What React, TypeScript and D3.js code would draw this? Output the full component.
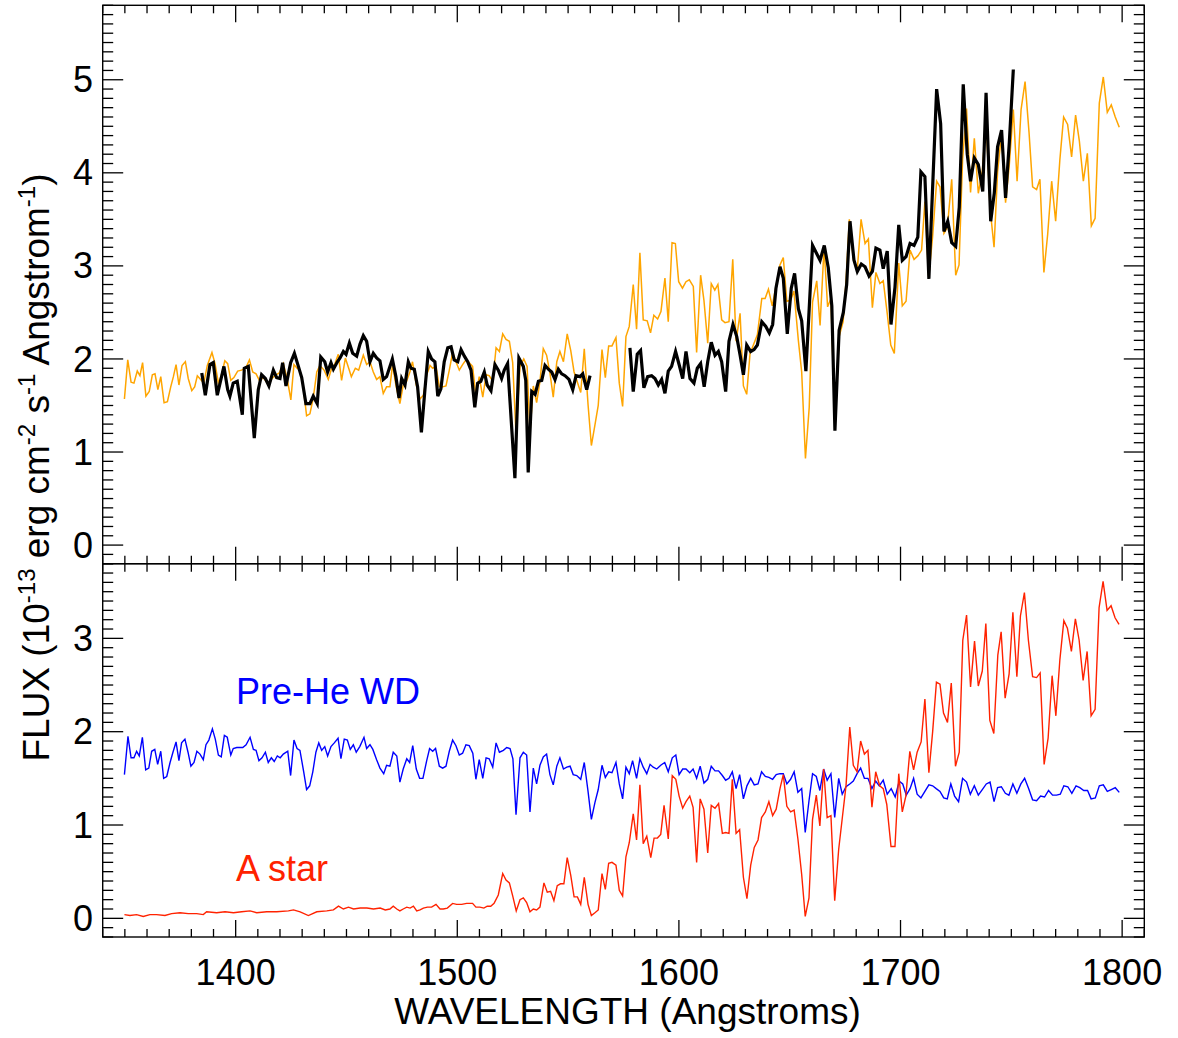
import React from 'react';
import * as d3 from 'd3';

// ---------- DATA ----------
const xTickLabels = [1400, 1500, 1600, 1700, 1800];
const topYTicks = [0, 1, 2, 3, 4, 5];
const botYTicks = [0, 1, 2, 3];

// Observed spectrum (black), two segments
const blackWaveA = [1384.7,1386.3,1388.4,1389.9,1391.7,1394.7,1396.4,1397.4,1398.9,1400.7,1403.0,1403.9,1405.7,1408.4,1410.2,1411.7,1413.4,1415.0,1417.0,1418.5,1420.0,1421.2,1422.7,1424.8,1426.5,1428.3,1429.8,1431.7,1433.5,1435.0,1436.8,1438.4,1440.2,1441.5,1443.0,1444.1,1445.9,1447.1,1448.6,1449.8,1451.3,1452.8,1454.6,1456.1,1457.6,1459.1,1460.6,1462.1,1463.6,1465.1,1466.6,1468.1,1470.7,1472.3,1473.7,1474.9,1476.4,1477.9,1479.1,1480.6,1482.1,1483.8,1485.4,1486.9,1488.4,1489.9,1491.2,1492.6,1494.1,1495.7,1497.2,1498.6,1500.2,1501.7,1503.2,1504.7,1506.2,1507.9,1509.2,1510.6,1512.2,1513.5,1515.2,1517.0,1518.5,1520.0,1521.2,1522.7,1526.0,1527.8,1529.8,1530.9,1532.0,1533.6,1535.1,1536.6,1538.1,1539.6,1541.1,1542.6,1544.1,1545.6,1547.1,1548.6,1550.4,1552.1,1553.6,1555.4,1556.6,1558.4,1559.9];
const blackFluxA = [1.85,1.61,1.94,1.96,1.61,1.92,1.67,1.60,1.74,1.76,1.40,1.90,1.92,1.15,1.67,1.83,1.79,1.71,1.88,1.80,1.79,1.96,1.71,1.96,2.06,1.92,1.80,1.52,1.52,1.60,1.52,2.02,1.97,1.86,1.96,1.89,1.97,2.01,2.08,2.05,2.17,2.06,2.03,2.16,2.25,2.19,1.97,2.06,2.01,1.98,1.78,1.81,2.00,1.81,1.58,1.79,1.72,1.97,1.90,1.89,1.70,1.21,1.67,2.08,2.00,1.97,1.60,1.68,1.97,2.12,2.13,1.99,1.97,2.10,2.03,1.97,1.88,1.48,1.74,1.76,1.86,1.72,1.66,1.94,1.88,1.79,1.88,1.95,0.72,2.01,1.92,1.77,0.78,1.65,1.62,1.76,1.77,1.93,1.89,1.86,1.78,1.89,1.84,1.82,1.78,1.67,1.82,1.81,1.84,1.67,1.82];
const blackWaveB = [1577.9,1579.4,1581.2,1582.7,1584.2,1585.9,1587.7,1589.2,1590.7,1592.2,1593.7,1595.2,1596.7,1598.5,1600.2,1601.7,1603.2,1605.0,1606.8,1608.3,1609.8,1611.4,1613.0,1614.6,1616.3,1617.8,1619.3,1621.1,1622.6,1624.4,1626.1,1627.7,1629.1,1630.6,1632.4,1633.9,1635.4,1637.4,1639.2,1640.8,1642.3,1643.8,1645.6,1647.1,1648.9,1650.7,1652.2,1653.9,1655.4,1657.3,1660.3,1662.2,1663.7,1665.6,1667.4,1669.0,1670.4,1672.3,1674.2,1675.7,1677.2,1679.0,1680.5,1682.3,1684.0,1685.8,1687.3,1688.9,1690.7,1692.2,1694.0,1695.7,1697.5,1699.2,1700.8,1702.5,1704.3,1706.1,1707.8,1709.2,1711.0,1712.8,1716.3,1718.1,1719.6,1721.3,1723.1,1724.9,1726.5,1728.3,1730.1,1731.6,1733.3,1735.1,1737.1,1738.6,1740.7,1742.3,1743.8,1745.6,1747.4,1749.1,1750.9];
const blackFluxB = [2.12,1.65,2.05,2.09,1.69,1.81,1.82,1.79,1.72,1.78,1.63,1.87,1.92,2.08,1.93,1.79,2.08,1.79,1.74,1.90,1.95,1.70,1.97,2.18,2.04,2.08,1.97,1.65,2.19,2.37,2.24,2.03,1.83,2.15,2.08,2.10,2.15,2.40,2.35,2.28,2.37,2.76,2.99,2.87,2.27,2.76,2.92,2.54,2.41,1.87,3.22,3.13,3.06,3.22,2.98,2.57,1.23,2.31,2.50,2.80,3.48,3.06,2.94,3.02,2.99,2.89,2.94,3.19,3.17,2.97,3.16,2.37,2.77,3.44,3.06,3.10,3.24,3.22,3.31,4.01,3.96,2.86,4.90,4.53,3.37,3.48,3.25,3.21,3.63,4.95,4.20,3.91,4.16,4.09,3.80,4.86,3.48,3.78,4.28,4.46,3.73,4.33,5.11];

// Composite model (orange)
const orangeWave = [1349.8,1351.3,1352.8,1354.1,1355.6,1356.8,1358.0,1359.5,1361.0,1362.4,1363.6,1364.9,1366.2,1367.7,1369.2,1370.7,1371.9,1373.1,1374.4,1375.8,1377.3,1378.6,1380.2,1381.5,1382.7,1384.2,1385.6,1387.2,1389.3,1390.7,1392.2,1393.5,1395.1,1396.4,1397.8,1399.2,1400.9,1402.7,1404.7,1406.2,1407.7,1409.2,1410.7,1412.5,1414.9,1416.4,1418.2,1419.7,1421.5,1423.3,1424.9,1426.3,1427.7,1429.0,1430.5,1432.0,1433.5,1435.0,1436.6,1438.0,1439.9,1441.8,1443.3,1444.8,1446.3,1447.8,1449.5,1451.0,1452.2,1454.0,1455.5,1457.6,1459.1,1460.6,1462.1,1463.6,1465.1,1466.6,1468.1,1469.6,1470.8,1472.3,1474.1,1475.6,1477.1,1478.6,1479.8,1481.5,1483.2,1484.7,1486.2,1487.7,1488.9,1490.4,1491.9,1493.4,1494.9,1496.4,1497.9,1499.4,1500.9,1502.4,1503.9,1505.4,1506.9,1508.4,1509.9,1511.5,1513.0,1514.4,1516.0,1517.5,1519.0,1520.5,1522.0,1523.5,1525.0,1526.5,1528.3,1530.0,1531.5,1532.8,1534.3,1535.8,1537.3,1538.8,1540.3,1541.8,1543.3,1544.9,1546.3,1547.9,1549.6,1551.2,1552.7,1554.2,1555.7,1557.3,1559.0,1560.5,1562.1,1563.6,1565.3,1566.8,1568.3,1569.8,1571.6,1573.1,1574.6,1576.1,1577.6,1579.4,1580.9,1582.4,1583.9,1585.7,1587.2,1588.7,1590.4,1591.9,1593.7,1595.2,1596.9,1598.4,1599.9,1601.6,1603.2,1604.7,1606.5,1608.0,1609.8,1611.3,1613.0,1614.6,1616.2,1617.6,1619.3,1620.8,1622.6,1624.3,1625.8,1627.6,1629.1,1630.6,1632.1,1633.6,1635.4,1637.4,1638.9,1640.4,1642.1,1643.9,1645.6,1647.1,1648.7,1650.4,1651.9,1653.9,1655.4,1657.1,1658.8,1660.3,1662.2,1663.7,1665.5,1667.1,1668.6,1670.4,1672.3,1674.1,1675.4,1676.9,1678.7,1680.5,1682.2,1684.0,1685.5,1687.3,1688.9,1690.7,1692.2,1694.0,1695.6,1697.2,1699.2,1700.8,1702.5,1704.3,1706.1,1707.9,1709.5,1711.0,1712.7,1714.5,1716.3,1717.8,1719.6,1721.1,1723.1,1724.9,1726.4,1728.0,1729.8,1731.6,1733.3,1735.1,1736.9,1738.6,1740.4,1742.2,1743.8,1745.6,1747.4,1749.1,1750.9,1752.6,1754.4,1756.2,1758.0,1759.6,1761.4,1762.9,1764.7,1766.4,1768.2,1770.0,1771.9,1773.6,1775.4,1777.2,1779.0,1780.7,1782.5,1784.3,1786.1,1787.8,1789.7,1791.5,1793.3,1795.1,1796.9,1798.7];
const orangeFlux = [1.57,1.99,1.75,1.74,1.87,1.82,1.96,1.60,1.65,1.83,1.84,1.67,1.81,1.53,1.54,1.70,1.81,1.94,1.72,1.93,1.97,1.79,1.66,1.70,1.82,1.78,1.74,1.93,2.07,1.95,1.74,1.82,1.98,1.95,1.77,1.80,1.87,1.88,1.91,1.99,1.86,1.84,1.77,1.80,1.72,1.79,1.83,1.85,1.95,1.78,1.56,1.94,1.90,1.88,1.70,1.39,1.41,1.58,1.86,1.93,1.88,1.78,1.90,1.95,2.05,1.77,2.01,1.90,1.81,1.90,1.88,2.04,1.94,1.97,1.86,1.78,1.81,1.63,1.70,1.70,1.94,1.72,1.52,1.72,1.76,1.86,1.97,1.72,1.57,1.61,1.83,1.93,1.90,1.92,1.70,1.70,1.71,1.88,2.07,1.97,1.88,1.94,1.99,1.96,1.92,1.60,1.81,1.59,1.83,1.82,1.76,2.12,2.08,2.27,2.21,2.19,1.96,1.19,1.92,2.00,1.92,1.21,1.71,1.53,1.76,2.11,2.04,1.85,1.59,1.97,2.08,1.97,2.27,2.09,1.86,1.75,1.64,2.11,1.51,1.07,1.29,1.50,2.10,1.80,2.14,2.14,2.23,1.74,1.49,2.24,2.35,2.80,2.32,3.14,2.42,2.41,2.28,2.47,2.43,2.51,2.87,2.40,3.25,3.24,2.83,2.76,2.83,2.85,2.78,2.07,2.90,2.63,2.17,2.81,2.74,2.80,2.42,2.39,2.40,3.07,2.19,2.49,1.71,1.62,2.06,2.15,2.26,2.65,2.65,2.75,2.57,2.79,3.01,3.09,2.62,2.63,2.73,2.20,1.86,0.93,1.48,2.61,2.84,2.36,3.20,2.56,2.65,1.27,2.24,2.40,2.83,3.50,3.07,2.96,3.50,3.24,3.29,2.55,2.93,2.81,2.84,2.49,2.15,2.06,3.03,2.57,2.62,3.17,3.07,3.11,3.17,3.69,2.87,3.32,3.91,3.85,3.35,3.41,3.93,2.90,3.01,4.14,4.69,3.79,4.37,3.78,4.02,4.57,3.62,3.20,4.01,4.43,3.68,4.09,4.68,3.91,4.68,4.98,4.43,3.85,3.82,3.93,2.93,3.34,3.91,3.48,4.14,4.60,4.52,4.17,4.62,4.34,3.91,4.21,3.43,3.51,4.75,5.03,4.65,4.73,4.60,4.49];

// Pre-He WD model (blue)
const blueWave = [1349.8,1351.4,1352.8,1354.1,1355.3,1356.5,1357.9,1359.4,1360.8,1362.1,1363.5,1364.8,1366.2,1367.5,1368.9,1370.4,1371.7,1373.1,1374.4,1375.6,1377.1,1378.5,1379.8,1381.2,1382.5,1383.9,1385.4,1386.6,1387.9,1389.5,1390.8,1392.2,1393.5,1394.9,1396.2,1397.8,1398.9,1400.5,1401.8,1403.2,1404.7,1406.5,1408.0,1409.2,1410.5,1411.9,1413.4,1414.7,1416.1,1417.4,1418.8,1420.1,1421.5,1423.5,1424.8,1426.3,1427.7,1429.0,1430.7,1432.0,1433.4,1434.8,1436.2,1437.5,1438.8,1440.2,1441.5,1443.0,1444.5,1446.2,1447.5,1449.0,1450.4,1451.7,1453.1,1454.4,1456.0,1457.9,1459.1,1460.6,1461.9,1463.6,1465.1,1466.8,1468.1,1469.6,1471.1,1472.7,1474.1,1475.6,1477.2,1478.5,1479.9,1481.5,1483.0,1484.5,1486.2,1487.5,1488.9,1490.2,1491.9,1493.4,1494.9,1496.4,1497.9,1499.4,1500.9,1502.4,1503.9,1505.4,1507.0,1508.4,1509.9,1511.5,1513.0,1514.4,1516.0,1517.5,1519.0,1520.8,1522.3,1523.8,1525.1,1526.5,1528.3,1529.8,1531.3,1532.8,1534.3,1535.8,1537.3,1538.8,1540.3,1541.8,1543.3,1544.9,1546.3,1547.9,1549.4,1550.9,1552.3,1553.9,1555.7,1557.3,1559.0,1560.5,1562.1,1563.6,1565.3,1566.8,1568.3,1569.8,1571.6,1573.1,1574.6,1576.1,1577.6,1579.1,1580.9,1582.4,1583.9,1585.5,1587.0,1588.4,1590.0,1591.8,1593.6,1595.2,1597.0,1598.6,1600.1,1601.7,1603.2,1604.9,1606.4,1608.0,1609.6,1611.3,1613.0,1614.6,1616.3,1617.9,1619.6,1621.1,1622.6,1624.1,1625.8,1627.4,1629.1,1630.7,1632.4,1634.0,1635.7,1637.3,1639.0,1640.6,1642.3,1643.9,1645.6,1647.1,1648.7,1650.4,1652.0,1653.7,1655.4,1657.0,1658.7,1660.3,1662.0,1663.6,1665.3,1666.9,1668.6,1670.3,1672.1,1673.7,1675.4,1677.1,1678.7,1680.4,1682.0,1683.7,1685.3,1687.1,1688.8,1690.4,1692.2,1694.0,1695.8,1697.6,1699.4,1701.0,1702.6,1704.3,1705.9,1707.5,1709.2,1711.0,1712.8,1714.5,1716.1,1717.8,1719.5,1721.1,1722.7,1724.4,1726.2,1728.0,1729.8,1731.5,1733.3,1735.1,1736.9,1738.7,1740.4,1742.2,1743.8,1745.5,1747.3,1748.9,1750.7,1752.5,1754.3,1756.0,1757.8,1759.6,1761.4,1763.2,1765.0,1766.8,1768.6,1770.4,1772.1,1773.7,1775.5,1777.3,1779.2,1780.9,1782.7,1784.4,1786.0,1787.9,1789.7,1791.5,1793.3,1795.1,1796.9,1798.7];
const blueFlux = [1.54,1.95,1.72,1.72,1.79,1.74,1.94,1.59,1.61,1.79,1.81,1.65,1.79,1.50,1.52,1.67,1.78,1.89,1.69,1.88,1.92,1.78,1.63,1.67,1.79,1.76,1.70,1.86,1.91,2.03,1.92,1.75,1.73,1.96,1.94,1.75,1.82,1.83,1.83,1.83,1.86,1.94,1.81,1.80,1.69,1.72,1.78,1.67,1.72,1.68,1.74,1.72,1.76,1.79,1.53,1.91,1.82,1.80,1.57,1.38,1.42,1.57,1.78,1.88,1.80,1.84,1.74,1.84,1.88,1.93,1.71,1.92,1.91,1.81,1.86,1.78,1.84,1.94,1.82,1.86,1.81,1.70,1.61,1.55,1.64,1.63,1.78,1.74,1.46,1.60,1.71,1.67,1.85,1.60,1.50,1.50,1.69,1.82,1.79,1.82,1.63,1.61,1.63,1.79,1.91,1.85,1.75,1.77,1.86,1.85,1.77,1.49,1.70,1.50,1.72,1.71,1.62,1.88,1.78,1.80,1.83,1.82,1.71,1.11,1.72,1.78,1.75,1.14,1.61,1.44,1.64,1.73,1.76,1.54,1.43,1.63,1.72,1.60,1.62,1.63,1.54,1.53,1.49,1.67,1.36,1.06,1.24,1.38,1.64,1.51,1.57,1.56,1.67,1.44,1.28,1.62,1.55,1.69,1.50,1.71,1.62,1.55,1.65,1.62,1.60,1.64,1.67,1.57,1.72,1.75,1.54,1.60,1.60,1.56,1.60,1.50,1.63,1.45,1.49,1.63,1.58,1.58,1.53,1.48,1.50,1.57,1.39,1.54,1.28,1.42,1.50,1.43,1.44,1.57,1.52,1.51,1.49,1.54,1.55,1.55,1.44,1.49,1.57,1.35,1.39,0.92,1.26,1.55,1.52,1.37,1.60,1.48,1.55,1.08,1.50,1.33,1.41,1.44,1.47,1.55,1.61,1.50,1.50,1.39,1.47,1.42,1.48,1.33,1.39,1.30,1.47,1.44,1.32,1.39,1.50,1.33,1.29,1.36,1.43,1.42,1.39,1.36,1.29,1.28,1.44,1.31,1.25,1.50,1.46,1.33,1.42,1.32,1.38,1.44,1.46,1.25,1.40,1.41,1.34,1.32,1.44,1.34,1.44,1.50,1.39,1.27,1.26,1.31,1.30,1.37,1.32,1.32,1.33,1.42,1.41,1.34,1.42,1.40,1.37,1.37,1.28,1.29,1.42,1.43,1.36,1.38,1.40,1.35];

// A star model (red)
const redWave = [1349.8,1352.3,1355.3,1358.3,1361.3,1364.3,1368.1,1371.1,1374.9,1378.6,1382.4,1385.4,1386.9,1391.4,1395.2,1399.0,1402.7,1406.5,1409.5,1414.0,1418.5,1423.8,1426.1,1429.1,1432.8,1436.6,1441.1,1444.1,1446.4,1448.6,1450.9,1453.2,1456.2,1459.2,1462.2,1465.2,1467.5,1469.6,1471.1,1472.7,1474.1,1475.6,1477.2,1478.7,1480.2,1481.7,1483.2,1484.7,1486.5,1488.4,1490.4,1492.2,1493.7,1495.5,1497.9,1499.7,1502.0,1504.2,1506.9,1508.4,1510.2,1512.0,1513.5,1515.1,1516.6,1518.5,1520.5,1522.0,1523.5,1525.0,1526.6,1528.3,1529.8,1531.3,1532.8,1534.3,1535.8,1537.3,1539.1,1540.6,1542.1,1543.6,1545.1,1546.6,1548.1,1549.6,1551.2,1552.7,1554.2,1555.7,1557.3,1559.0,1560.5,1562.1,1563.6,1565.3,1566.8,1568.3,1569.8,1571.6,1573.1,1574.6,1576.1,1577.6,1579.4,1580.9,1582.4,1583.9,1585.5,1587.3,1588.8,1590.3,1591.8,1593.3,1595.2,1597.0,1598.6,1600.1,1601.7,1603.2,1604.9,1606.4,1608.0,1609.6,1611.3,1613.0,1614.6,1616.3,1617.9,1619.6,1621.1,1622.6,1624.1,1625.8,1627.4,1629.1,1630.7,1632.4,1634.0,1635.7,1637.3,1639.0,1640.6,1642.3,1643.9,1645.6,1647.1,1648.7,1650.4,1652.0,1653.7,1655.4,1657.0,1658.7,1660.3,1662.0,1663.6,1665.3,1666.9,1668.6,1670.3,1672.1,1673.7,1675.4,1677.1,1678.7,1680.4,1682.0,1683.7,1685.3,1687.1,1688.8,1690.6,1692.2,1693.8,1695.7,1697.5,1699.2,1700.8,1702.4,1704.2,1705.9,1707.5,1709.3,1711.0,1712.8,1714.5,1716.2,1717.8,1719.4,1721.2,1722.9,1724.8,1726.5,1728.1,1729.8,1731.6,1733.4,1735.1,1736.9,1738.5,1740.3,1742.1,1743.9,1745.4,1747.2,1749.0,1750.7,1752.5,1754.1,1755.9,1757.7,1759.6,1761.4,1763.0,1764.8,1766.6,1768.4,1770.1,1771.9,1773.7,1775.3,1777.1,1778.9,1780.6,1782.4,1784.2,1786.0,1787.8,1789.6,1791.4,1793.2,1795.0,1796.8,1798.6];
const redFlux = [0.04,0.03,0.04,0.02,0.04,0.04,0.03,0.05,0.06,0.05,0.05,0.04,0.07,0.06,0.07,0.06,0.07,0.08,0.06,0.07,0.07,0.08,0.09,0.07,0.03,0.07,0.08,0.09,0.13,0.10,0.12,0.10,0.11,0.11,0.10,0.11,0.09,0.10,0.13,0.10,0.08,0.10,0.12,0.11,0.13,0.08,0.09,0.11,0.12,0.12,0.15,0.10,0.10,0.11,0.16,0.15,0.15,0.16,0.16,0.12,0.12,0.11,0.13,0.13,0.16,0.25,0.48,0.41,0.38,0.24,0.08,0.20,0.22,0.17,0.07,0.10,0.09,0.12,0.38,0.28,0.29,0.19,0.35,0.37,0.37,0.65,0.46,0.23,0.23,0.15,0.44,0.15,0.03,0.06,0.09,0.48,0.31,0.59,0.60,0.57,0.30,0.24,0.66,0.81,1.12,0.84,1.43,0.80,0.88,0.65,0.86,0.86,0.90,1.21,0.85,1.53,1.49,1.31,1.18,1.25,1.31,1.19,0.60,1.28,1.17,0.70,1.21,1.18,1.23,0.91,0.92,0.91,1.49,0.91,0.95,0.44,0.21,0.57,0.76,0.84,1.08,1.14,1.25,1.10,1.17,1.39,1.54,1.20,1.14,1.16,0.85,0.47,0.02,0.22,1.06,1.32,0.99,1.60,1.08,1.10,0.19,0.74,1.07,1.42,2.05,1.64,1.57,1.90,1.76,1.80,1.19,1.57,1.42,1.39,1.22,0.77,0.77,1.55,1.14,1.31,1.79,1.59,1.78,1.89,2.35,1.56,2.00,2.53,2.51,2.20,2.10,2.52,1.63,1.78,2.98,3.25,2.48,2.97,2.49,2.65,3.16,2.12,1.98,2.82,3.07,2.36,2.62,3.28,2.59,3.24,3.49,2.98,2.59,2.58,2.63,1.65,1.93,2.60,2.17,2.77,3.19,3.11,2.86,3.21,2.98,2.55,2.86,2.17,2.24,3.33,3.61,3.30,3.35,3.22,3.15];

// ---------- LAYOUT ----------
const W = 1178;
const H = 1038;
const PL = 102.7;
const PR = 1144.3;
const TOP1 = 5.3;
const MID = 563.7;
const BOT2 = 937;
const FONT = '"Liberation Sans", Arial, Helvetica, sans-serif';
const FS = 36;
const FST = 37;

const zip = (a: number[], b: number[]): [number, number][] => a.map((v, i) => [v, b[i]]);

export default function App() {
  const x = d3.scaleLinear().domain([1340, 1810]).range([PL, PR]);
  const yTop = d3.scaleLinear().domain([-0.2, 5.8]).range([MID, TOP1]);
  const yBot = d3.scaleLinear().domain([-0.2, 3.8]).range([BOT2, MID]);

  const lineTop = d3.line<[number, number]>().x(d => x(d[0])).y(d => yTop(d[1]));
  const lineBot = d3.line<[number, number]>().x(d => x(d[0])).y(d => yBot(d[1]));

  const xMinor = d3.range(1340, 1811, 10);
  const xMajor = d3.range(1400, 1801, 100);

  const panel = (y: d3.ScaleLinear<number, number>, top: number, bottom: number, key: string) => {
    const [d0, d1] = y.domain();
    const yMinor = d3.range(Math.round(d0 * 10), Math.round(d1 * 10) + 1).map(v => v / 10);
    const els: JSX.Element[] = [];
    xMinor.forEach((v, i) => {
      const isMaj = xMajor.includes(v);
      const len = isMaj ? 17 : 8;
      els.push(<line key={`${key}xb${i}`} x1={x(v)} x2={x(v)} y1={bottom} y2={bottom - len} stroke="#000" strokeWidth={1.3} />);
      els.push(<line key={`${key}xt${i}`} x1={x(v)} x2={x(v)} y1={top} y2={top + len} stroke="#000" strokeWidth={1.3} />);
    });
    yMinor.forEach((v, i) => {
      const isMaj = Math.abs(v - Math.round(v)) < 1e-6;
      const len = isMaj ? 20.5 : 10.5;
      els.push(<line key={`${key}yl${i}`} x1={PL} x2={PL + len} y1={y(v)} y2={y(v)} stroke="#000" strokeWidth={1.3} />);
      els.push(<line key={`${key}yr${i}`} x1={PR} x2={PR - len} y1={y(v)} y2={y(v)} stroke="#000" strokeWidth={1.3} />);
    });
    els.push(<rect key={`${key}box`} x={PL} y={top} width={PR - PL} height={bottom - top} fill="none" stroke="#000" strokeWidth={1.4} />);
    return els;
  };

  return (
    <svg width={W} height={H} style={{ position: 'absolute', left: 0, top: 0, background: '#fff' }} fontFamily={FONT}>
      <rect x={0} y={0} width={W} height={H} fill="#fff" />
      {/* top panel data */}
      <path d={lineTop(zip(orangeWave, orangeFlux)) || ''} fill="none" stroke="#FFA500" strokeWidth={1.5} />
      <path d={lineTop(zip(blackWaveA, blackFluxA)) || ''} fill="none" stroke="#000" strokeWidth={3.2} />
      <path d={lineTop(zip(blackWaveB, blackFluxB)) || ''} fill="none" stroke="#000" strokeWidth={3.2} />
      {/* bottom panel data */}
      <path d={lineBot(zip(blueWave, blueFlux)) || ''} fill="none" stroke="#0000FF" strokeWidth={1.4} />
      <path d={lineBot(zip(redWave, redFlux)) || ''} fill="none" stroke="#FF2200" strokeWidth={1.4} />

      {panel(yTop, TOP1, MID, 't')}
      {panel(yBot, MID, BOT2, 'b')}

      {topYTicks.map(v => (
        <text key={`tl${v}`} x={93} y={yTop(v)} dy="0.35em" textAnchor="end" fontSize={FS}>{v}</text>
      ))}
      {botYTicks.map(v => (
        <text key={`bl${v}`} x={93} y={yBot(v)} dy="0.35em" textAnchor="end" fontSize={FS}>{v}</text>
      ))}
      {xTickLabels.map(v => (
        <text key={`xl${v}`} x={x(v)} y={985} textAnchor="middle" fontSize={FS}>{v}</text>
      ))}
      <text x={627.5} y={1024} textAnchor="middle" fontSize={FST}>WAVELENGTH (Angstroms)</text>

      <text transform={`translate(49,467.5) rotate(-90)`} textAnchor="middle" fontSize={FST}>
        <tspan>FLUX (10</tspan>
        <tspan fontSize={24} dy={-14}>-13</tspan>
        <tspan dy={14}> erg cm</tspan>
        <tspan fontSize={24} dy={-14}>-2</tspan>
        <tspan dy={14}> s</tspan>
        <tspan fontSize={24} dy={-14}>-1</tspan>
        <tspan dy={14}> Angstrom</tspan>
        <tspan fontSize={24} dy={-14}>-1</tspan>
        <tspan dy={14}>)</tspan>
      </text>

      <text x={236} y={704} fontSize={36} fill="#0000FF">Pre-He WD</text>
      <text x={236} y={881} fontSize={36} fill="#FF2200">A star</text>
    </svg>
  );
}
